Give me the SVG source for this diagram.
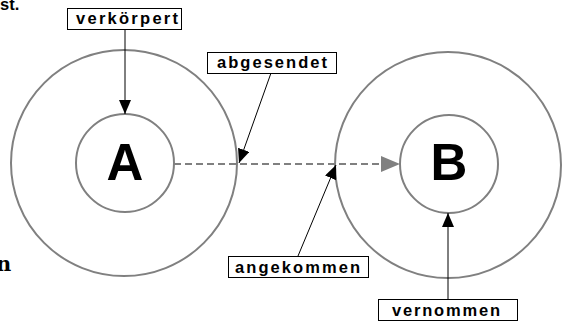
<svg xmlns="http://www.w3.org/2000/svg" width="562" height="322" viewBox="0 0 562 322">
<style>
.ring{fill:none;stroke:#808080;stroke-width:2}
.box{fill:#fff;stroke:#000;stroke-width:1}
.lbl{font-family:"Liberation Sans",Arial,sans-serif;font-weight:bold;font-size:16.5px;fill:#000}
.big{font-family:"Liberation Sans",Arial,sans-serif;font-weight:bold;font-size:51px;fill:#000;text-anchor:middle}
.ln{stroke:#000;stroke-width:1;fill:none}
</style>
<defs>
<marker id="ah" markerWidth="14" markerHeight="12" refX="14" refY="6" orient="auto" markerUnits="userSpaceOnUse">
<path d="M0,0 L14,6 L0,12 Z" fill="#000"/>
</marker>
</defs>
<text x="0" y="10" class="lbl" font-size="16">st.</text>
<text x="-4" y="271" font-family="'DejaVu Serif',serif" font-weight="bold" font-size="21">n</text>
<g id="nodeA">
<circle class="ring" cx="124" cy="163" r="113"/>
<circle class="ring" cx="125" cy="163" r="49"/>
<text class="big" x="125" y="180">A</text>
</g>
<g id="nodeB">
<circle class="ring" cx="448" cy="165" r="113"/>
<circle class="ring" cx="449" cy="164" r="49"/>
<text class="big" x="449" y="180">B</text>
</g>
<g id="connectors">
<line x1="174" y1="164" x2="384" y2="164" stroke="#808080" stroke-width="2" stroke-dasharray="7,4"/>
<path d="M400,164 L381,156 L381,172 Z" fill="#808080"/>
<line class="ln" x1="125" y1="29" x2="125" y2="114" marker-end="url(#ah)"/>
<line class="ln" x1="271" y1="73" x2="239" y2="163" marker-end="url(#ah)"/>
<line class="ln" x1="298" y1="256" x2="336" y2="165" marker-end="url(#ah)"/>
<line class="ln" x1="448" y1="299" x2="448" y2="213" marker-end="url(#ah)"/>
</g>
<g id="lbl-verkoerpert">
<rect class="box" x="67.5" y="8.5" width="114" height="21"/>
<text class="lbl" x="76" y="24" textLength="102" lengthAdjust="spacing">verkörpert</text>
</g>
<g id="lbl-abgesendet">
<rect class="box" x="207.5" y="52.5" width="129" height="21"/>
<text class="lbl" x="217" y="68" textLength="110" lengthAdjust="spacing">abgesendet</text>
</g>
<g id="lbl-angekommen">
<rect class="box" x="228.5" y="256.5" width="140" height="21"/>
<text class="lbl" x="235" y="273" textLength="125" lengthAdjust="spacing">angekommen</text>
</g>
<g id="lbl-vernommen">
<rect class="box" x="378.5" y="299.5" width="139" height="21"/>
<text class="lbl" x="392" y="316" textLength="108" lengthAdjust="spacing">vernommen</text>
</g>
</svg>
